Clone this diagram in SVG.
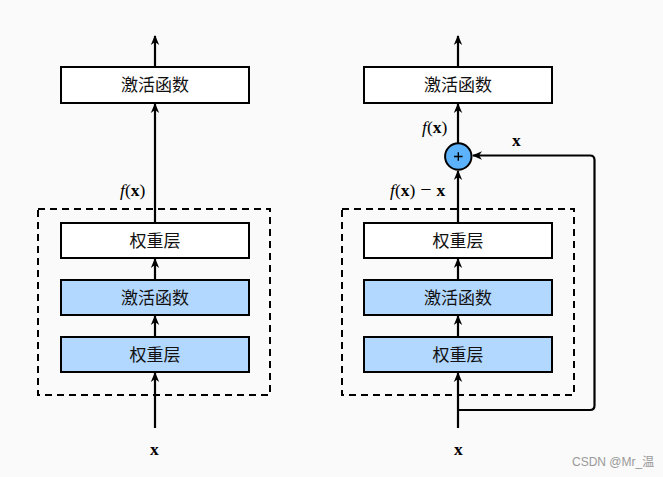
<svg xmlns="http://www.w3.org/2000/svg" width="663" height="477" viewBox="0 0 663 477">
<style>
.box{fill:#ffffff;stroke:#000;stroke-width:2}
.blue{fill:#b3d8ff;stroke:#000;stroke-width:2}
.dash{fill:none;stroke:#000;stroke-width:2;stroke-dasharray:7,5}
.line{fill:none;stroke:#000;stroke-width:2.2}
.cn{font-family:"Noto Sans CJK SC",sans-serif;font-size:17px;text-anchor:middle;fill:#111}
.math{font-family:"Liberation Serif",serif;font-size:17.5px;fill:#000}
.wm{font-family:"Liberation Sans","Noto Sans CJK SC",sans-serif;font-size:12px;fill:#999}
</style>
<defs>
<marker id="ah" viewBox="0 0 10 10" refX="9" refY="5" markerWidth="10" markerHeight="10" markerUnits="userSpaceOnUse" orient="auto">
<path d="M0,0.8 L10,5 L0,9.2 L3,5 Z" fill="#000"/>
</marker>
</defs>
<rect width="663" height="477" fill="#fafafa"/>
<g id="connectors">
<line class="line" x1="155" y1="67" x2="155" y2="36" marker-end="url(#ah)"/>
<line class="line" x1="155" y1="222" x2="155" y2="104" marker-end="url(#ah)"/>
<line class="line" x1="155" y1="280" x2="155" y2="259" marker-end="url(#ah)"/>
<line class="line" x1="155" y1="337" x2="155" y2="316" marker-end="url(#ah)"/>
<line class="line" x1="155" y1="428" x2="155" y2="373" marker-end="url(#ah)"/>
<line class="line" x1="458" y1="67" x2="458" y2="36" marker-end="url(#ah)"/>
<line class="line" x1="458" y1="143" x2="458" y2="104" marker-end="url(#ah)"/>
<line class="line" x1="458" y1="222" x2="458" y2="171" marker-end="url(#ah)"/>
<line class="line" x1="458" y1="280" x2="458" y2="259" marker-end="url(#ah)"/>
<line class="line" x1="458" y1="337" x2="458" y2="316" marker-end="url(#ah)"/>
<line class="line" x1="458" y1="428" x2="458" y2="373" marker-end="url(#ah)"/>
<path class="line" d="M458,410 H590 Q594.5,410 594.5,405.5 V160 Q594.5,155.5 590,155.5 H473" marker-end="url(#ah)"/>
</g>
<g id="left-block">
<rect class="dash" x="38" y="209" width="232" height="186"/>
</g>
<g id="left-act-top"><rect class="box" x="61" y="67" width="188" height="36"/><text class="cn" x="155" y="91">激活函数</text></g>
<g id="left-weight2"><rect class="box" x="61" y="223" width="188" height="35"/><text class="cn" x="155" y="247">权重层</text></g>
<g id="left-act"><rect class="blue" x="61" y="280" width="188" height="35"/><text class="cn" x="155" y="304">激活函数</text></g>
<g id="left-weight1"><rect class="blue" x="61" y="337" width="188" height="35"/><text class="cn" x="155" y="361">权重层</text></g>
<g id="right-block">
<rect class="dash" x="342" y="209" width="232" height="186"/>
</g>
<g id="right-act-top"><rect class="box" x="364" y="67" width="188" height="36"/><text class="cn" x="458" y="91">激活函数</text></g>
<g id="right-weight2"><rect class="box" x="364" y="223" width="188" height="35"/><text class="cn" x="458" y="247">权重层</text></g>
<g id="right-act"><rect class="blue" x="364" y="280" width="188" height="35"/><text class="cn" x="458" y="304">激活函数</text></g>
<g id="right-weight1"><rect class="blue" x="364" y="337" width="188" height="35"/><text class="cn" x="458" y="361">权重层</text></g>
<g id="plus">
<circle cx="458.3" cy="156.5" r="13.2" fill="#5db3fb" stroke="#000" stroke-width="2"/>
<path d="M454,156.5 H462.6 M458.3,152.2 V160.8" stroke="#000" stroke-width="1.4"/>
</g>
<g id="labels">
<text class="math" x="120" y="196"><tspan font-style="italic">f</tspan>(<tspan font-weight="bold">x</tspan>)</text>
<text class="math" x="150" y="455"><tspan font-weight="bold">x</tspan></text>
<text class="math" x="422" y="133"><tspan font-style="italic">f</tspan>(<tspan font-weight="bold">x</tspan>)</text>
<text class="math" x="390" y="196"><tspan font-style="italic">f</tspan>(<tspan font-weight="bold">x</tspan>)<tspan dx="5" font-size="20">−</tspan><tspan dx="5" font-weight="bold">x</tspan></text>
<text class="math" x="512" y="146"><tspan font-weight="bold">x</tspan></text>
<text class="math" x="454" y="455"><tspan font-weight="bold">x</tspan></text>
<text class="wm" x="572" y="466">CSDN @Mr_温</text>
</g>
</svg>
